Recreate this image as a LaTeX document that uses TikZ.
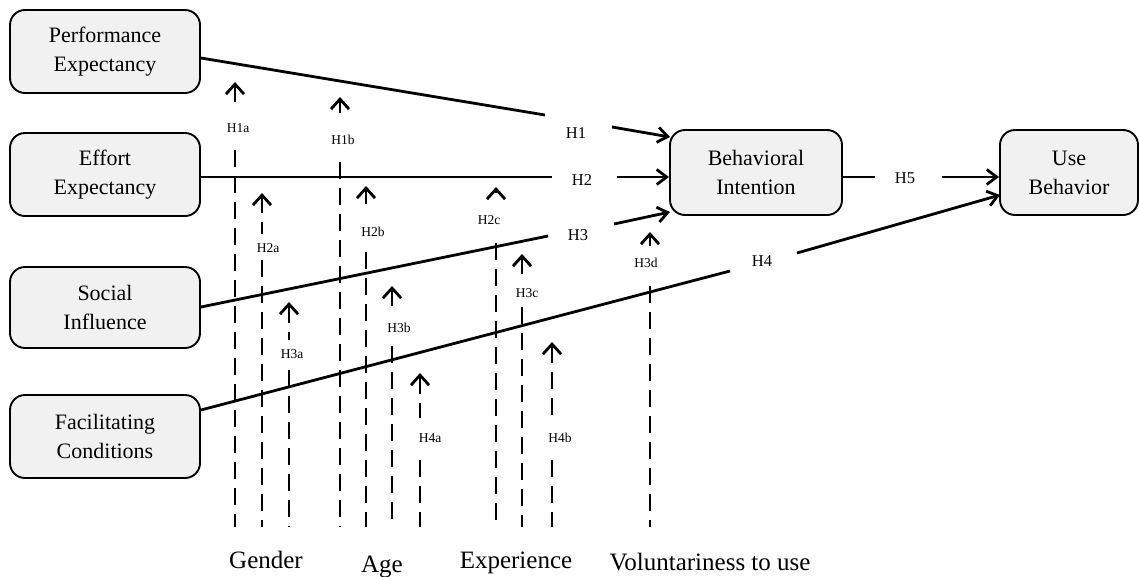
\documentclass[tikz,border=0pt]{standalone}
\usepackage{fontspec}
\setmainfont{Liberation Serif}
\usetikzlibrary{arrows.meta}
\definecolor{boxfill}{RGB}{240,241,240}
\tikzset{
  box/.style={draw, line width=1.9pt, rounded corners=15pt, fill=boxfill,
    align=center, inner sep=0pt, font=\fontsize{22}{29}\selectfont},
  conn/.style={line width=2.8pt},
  mainarrow/.style={conn, -{Straight Barb[length=10pt,width=15pt]}},
  hlab/.style={inner sep=0pt, font=\fontsize{16.5}{18}\selectfont},
  slab/.style={inner sep=0pt, font=\fontsize{13.5}{15}\selectfont},
  modline/.style={line width=2.8pt, dash pattern=on 17pt off 9pt},
  modtip/.style={modline, {Straight Barb[length=10pt,width=18pt]}-},
  modname/.style={inner sep=0pt, anchor=base, font=\fontsize{25}{28}\selectfont}
}
\begin{document}
\begin{tikzpicture}[x=1pt,y=-1pt]
\useasboundingbox (0,0) rectangle (1139,576);
% boxes
\node[box, minimum width=190pt, minimum height=83pt] (pe) at (105,51.5) {Performance\\Expectancy};
\node[box, minimum width=190pt, minimum height=83pt] (ee) at (105,174.5) {Effort\\Expectancy};
\node[box, minimum width=190pt, minimum height=81pt] (si) at (105,307.5) {Social\\Influence};
\node[box, minimum width=190pt, minimum height=83pt] (fc) at (105,436.5) {Facilitating\\Conditions};
\node[box, minimum width=172pt, minimum height=85pt] (bi) at (756,172.5) {Behavioral\\Intention};
\node[box, minimum width=138pt, minimum height=85pt] (ub) at (1069,172.5) {Use\\Behavior};
% hypothesis labels
\node[hlab] (h1) at (576,133) {H1};
\node[hlab] (h2) at (582,180) {H2};
\node[hlab] (h3) at (578,235) {H3};
\node[hlab] (h4) at (762,261) {H4};
\node[hlab] (h5) at (905,178) {H5};
% gap coordinates
\coordinate (pea) at (545,115);  \coordinate (peb) at (612,127);  \coordinate (bi1) at (670,137);
\coordinate (eea) at (552,177);  \coordinate (eeb) at (617,177);
\coordinate (sia) at (548,236);  \coordinate (sib) at (614,224);  \coordinate (bi3) at (670,212);
\coordinate (fca) at (730,271);  \coordinate (fcb) at (797,253);  \coordinate (ub4) at (1000,195);
\coordinate (bia) at (875,177);  \coordinate (bib) at (942,177);
% connectors
\draw[conn] (pe.east |- 0,58) -- (pea);
\draw[mainarrow] (peb) -- (bi1);
\draw[conn] (ee.east |- 0,177) -- (eea);
\draw[mainarrow] (eeb) -- (bi.west |- eeb);
\draw[conn] (si.east |- 0,307) -- (sia);
\draw[mainarrow] (sib) -- (bi3);
\draw[conn] (fc.east |- 0,410) -- (fca);
\draw[mainarrow] (fcb) -- (ub4);
\draw[conn] (bi.east |- bia) -- (bia);
\draw[mainarrow] (bib) -- (ub.west |- bib);
% moderator lines: name, x, tip y, label x, label y, upper end, lower start
\foreach \n/\x/\t/\lx/\ly/\ue/\ls in {
  H1a/235/82/238/128/108/150,
  H1b/340/97/343/140/113/162,
  H2a/262/193/268/248/234/260,
  H2b/366/186/373/232/204/252,
  H2c/496/187/489/220/193/243,
  H3a/289/302/292/354/340/370,
  H3b/392/286/399/328/312/346,
  H3c/522/254/527/293/280/307,
  H3d/650/232/646/263/246/286,
  H4a/420/373/430/438/418/460,
  H4b/552/342/560/438/418/460}{
  \node[slab] (lab\n) at (\lx,\ly) {\n};
  \coordinate (tip\n) at (\x,\t);
  \coordinate (up\n) at (\x,\ue);
  \coordinate (lo\n) at (\x,\ls);
  \coordinate (bot\n) at (\x,527);
  \draw[modtip] (tip\n) -- (up\n);
  \draw[modline] (lo\n) -- (bot\n);
}
% moderator names
\node[modname] (gender) at (266,568) {Gender};
\node[modname] (age) at (382,572) {Age};
\node[modname] (exper) at (516,568) {Experience};
\node[modname] (volun) at (710,570) {Voluntariness to use};
\end{tikzpicture}
\end{document}
